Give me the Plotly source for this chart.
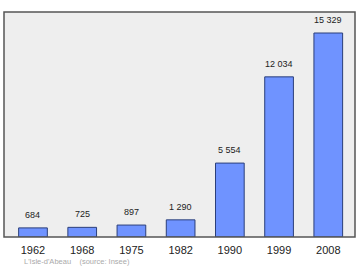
import plotly.graph_objects as go

years = ["1962", "1968", "1975", "1982", "1990", "1999", "2008"]
population = [684, 725, 897, 1290, 5554, 12034, 15329]
labels = ["684", "725", "897", "1 290", "5 554", "12 034", "15 329"]

x = list(range(len(years)))

fig = go.Figure()
fig.add_trace(go.Bar(
    x=x, y=population, width=0.583,
    marker=dict(color="#6f93ff", line=dict(color="#2b3f7a", width=1)),
    hoverinfo="skip",
))

annotations = [dict(x=xi, y=v, text=t, xref="x", yref="y", yanchor="bottom", yshift=6,
                    showarrow=False, font=dict(size=9, color="#222222"))
               for xi, v, t in zip(x, population, labels)]
annotations.append(dict(text="L'Isle-d'Abeau &nbsp;&nbsp; (source: Insee)", xref="paper", yref="paper",
                        x=0.05, y=-0.111, xanchor="left", yanchor="middle", showarrow=False,
                        font=dict(size=7.5, color="#aaaaaa")))

fig.update_layout(
    width=360, height=270,
    margin=dict(l=4, r=5, t=12, b=33),
    paper_bgcolor="white", plot_bgcolor="#eeeeee",
    showlegend=False,
    font=dict(family="Liberation Sans, Arial", color="#222222"),
    xaxis=dict(tickmode="array", tickvals=x, ticktext=years, range=[-0.589, 6.543],
               showgrid=False, zeroline=False, ticks="", tickfont=dict(size=11),
               ticklabelstandoff=5, showline=False, fixedrange=True),
    yaxis=dict(range=[0, 16907], showgrid=False, zeroline=False, showticklabels=False,
               ticks="", showline=False, fixedrange=True),
    shapes=[dict(type="rect", xref="paper", yref="paper", x0=0, y0=0, x1=1, y1=1,
                 line=dict(color="#555555", width=1.5))],
    annotations=annotations,
)

fig.write_html("out.html")
